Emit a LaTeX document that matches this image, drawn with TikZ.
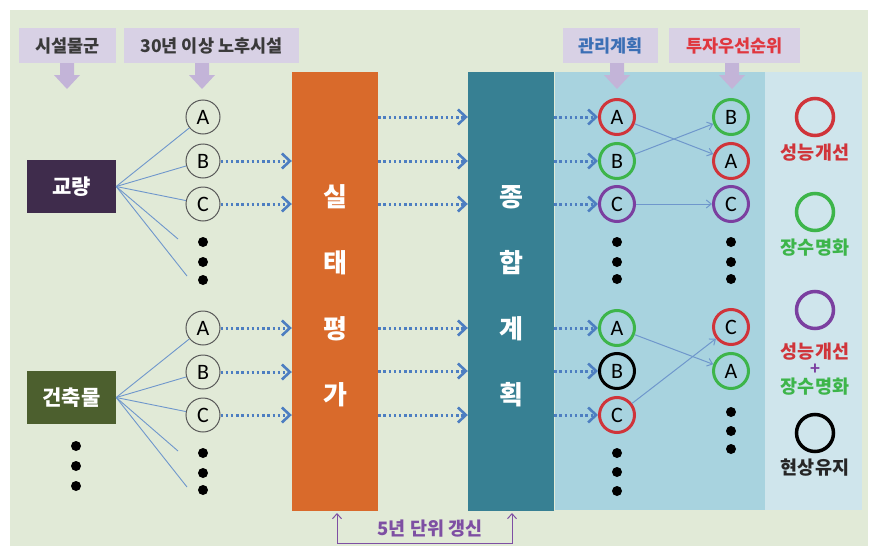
\documentclass[tikz,border=0pt]{standalone}
\usepackage{fontspec}
\setmainfont{Carlito}
\newfontfamily\kr{Noto Sans CJK KR}
\usetikzlibrary{arrows.meta}
\definecolor{panel}{HTML}{E1EAD7}
\definecolor{lav}{HTML}{D8D1E5}
\definecolor{lavarrow}{HTML}{C3B4D8}
\definecolor{orangebox}{HTML}{D96A2B}
\definecolor{tealbox}{HTML}{378093}
\definecolor{lightblue}{HTML}{A8D3DF}
\definecolor{legendbg}{HTML}{CFE5EC}
\definecolor{bridge}{HTML}{3F2C4C}
\definecolor{olive}{HTML}{4C5F2E}
\definecolor{dotblue}{HTML}{4D7EC1}
\definecolor{linkblue}{HTML}{6F97CC}
\definecolor{cred}{HTML}{D0343A}
\definecolor{cgreen}{HTML}{3DB54A}
\definecolor{cpurple}{HTML}{7B3FA0}
\definecolor{hdrtext}{HTML}{3A3A3A}
\definecolor{hdrblue}{HTML}{3B6FB5}
\definecolor{hdrred}{HTML}{E0373F}
\definecolor{brpurple}{HTML}{7E4FA3}
\tikzset{
  hdr/.style={fill=lav, minimum height=35pt, inner sep=0pt, font=\kr\bfseries\fontsize{17.5}{20}\selectfont},
  bigbox/.style={minimum width=86pt, minimum height=439pt, inner sep=0pt},
  bigtext/.style={text=white, align=center, font=\kr\bfseries\fontsize{26}{66}\selectfont},
  catbox/.style={minimum width=89pt, minimum height=53pt, inner sep=0pt, text=white, font=\kr\bfseries\fontsize{21}{24}\selectfont},
  lc/.style={circle, draw=black!65, line width=1pt, minimum size=34pt, inner sep=0pt, font=\fontsize{22}{22}\selectfont},
  mc/.style={circle, line width=3pt, minimum size=35pt, inner sep=0pt, font=\fontsize{22}{22}\selectfont},
  legc/.style={circle, line width=3.5pt, minimum size=37pt, inner sep=0pt},
  legt/.style={font=\kr\bfseries\fontsize{18.5}{20}\selectfont, inner sep=0pt},
  blackdot/.style={circle, fill=black, minimum size=10pt, inner sep=0pt},
  fan/.style={draw=linkblue, line width=0.9pt},
  dotarrow/.style={draw=dotblue, line width=3pt, dash pattern=on 2.4pt off 2.8pt, -{Straight Barb[length=8pt,width=15pt,line width=2.6pt]}},
  link/.style={draw=linkblue, line width=1pt, -{Straight Barb[length=5pt,width=8pt]}},
  bracket/.style={draw=brpurple, line width=1pt, {Straight Barb[length=5pt,width=9pt]}-{Straight Barb[length=5pt,width=9pt]}}
}
\begin{document}
\begin{tikzpicture}[x=1pt,y=-1pt]
\useasboundingbox (0,0) rectangle (876,549);
\fill[white] (0,0) rectangle (876,549);
\fill[panel] (10,10) rectangle (868,546);
% regions
\fill[lightblue] (555,72) rectangle (765,510);
\fill[legendbg] (765,72) rectangle (862,510);
% headers
\node[hdr, minimum width=97pt, text=hdrtext] (h1) at (67.5,45.5) {시설물군};
\node[hdr, minimum width=175pt, text=hdrtext] (h2) at (211.5,45.5) {30년 이상 노후시설};
\node[hdr, minimum width=95pt, text=hdrblue] (h3) at (610.5,45.5) {관리계획};
\node[hdr, minimum width=131pt, text=hdrred] (h4) at (734.5,45.5) {투자우선순위};
\foreach \x in {67,202,617,732}{
  \fill[lavarrow] (\x-7,63) -- (\x+7,63) -- (\x+7,75) -- (\x+13,75) -- (\x,89) -- (\x-13,75) -- (\x-7,75) -- cycle;
}
% big boxes
\node[bigbox, fill=orangebox] (sil) at (335,291.5) {};
\node[bigtext] (silt) at (335,296) {실\\태\\평\\가};
\node[bigbox, fill=tealbox] (jong) at (511,291.5) {};
\node[bigtext] (jongt) at (511,296) {종\\합\\계\\획};
% category boxes
\node[catbox, fill=bridge] (gyo) at (71.5,186.5) {교량};
\node[catbox, fill=olive] (gun) at (71.5,397.5) {건축물};
\node[blackdot] (gd1) at (76,446) {};
\node[blackdot] (gd2) at (76,466) {};
\node[blackdot] (gd3) at (76,486) {};
% left circles
\node[lc] (a1) at (203,117) {A};
\node[lc] (b1) at (203,161) {B};
\node[lc] (c1) at (203,204) {C};
\node[blackdot] (ld1) at (203,242) {};
\node[blackdot] (ld2) at (203,262) {};
\node[blackdot] (ld3) at (203,280) {};
\node[lc] (a2) at (203,328) {A};
\node[lc] (b2) at (203,372) {B};
\node[lc] (c2) at (203,415) {C};
\node[blackdot] (ld4) at (203,453) {};
\node[blackdot] (ld5) at (203,473) {};
\node[blackdot] (ld6) at (203,490) {};
\coordinate (g4) at (178,239);
\coordinate (g5) at (187,276);
\coordinate (k4) at (178,451);
\coordinate (k5) at (187,487);
\foreach \t in {a1,b1,c1,g4,g5}{\draw[fan] (gyo.east) -- (\t);}
\foreach \t in {a2,b2,c2,k4,k5}{\draw[fan] (gun.east) -- (\t);}
% left dotted arrows
\foreach \t in {b1,c1,a2,b2,c2}{\draw[dotarrow] (\t.east) -- (\t.east -| sil.west);}
% middle circles
\node[mc, draw=cred] (ma1) at (617,117) {A};
\node[mc, draw=cgreen] (mb1) at (617,161) {B};
\node[mc, draw=cpurple] (mc1) at (617,204) {C};
\node[blackdot] (md1) at (617,242) {};
\node[blackdot] (md2) at (617,262) {};
\node[blackdot] (md3) at (617,279) {};
\node[mc, draw=cgreen] (ma2) at (617,328) {A};
\node[mc, draw=black] (mb2) at (617,371) {B};
\node[mc, draw=cred] (mc2) at (617,415) {C};
\node[blackdot] (md4) at (617,453) {};
\node[blackdot] (md5) at (617,472) {};
\node[blackdot] (md6) at (617,491) {};
% right circles
\node[mc, draw=cgreen] (rb1) at (731,117) {B};
\node[mc, draw=cred] (ra1) at (731,161) {A};
\node[mc, draw=cpurple] (rc1) at (731,204) {C};
\node[blackdot] (rd1) at (731,242) {};
\node[blackdot] (rd2) at (731,262) {};
\node[blackdot] (rd3) at (731,279) {};
\node[mc, draw=cred] (rc2) at (731,327) {C};
\node[mc, draw=cgreen] (ra2) at (731,371) {A};
\node[blackdot] (rd4) at (731,412) {};
\node[blackdot] (rd5) at (731,431) {};
\node[blackdot] (rd6) at (731,449) {};
% dotted arrows between boxes and to middle circles
\foreach \t in {ma1,mb1,mc1,ma2,mb2,mc2}{
  \draw[dotarrow] (sil.east |- \t) -- (jong.west |- \t);
  \draw[dotarrow] (jong.east |- \t) -- (\t.west);
}
% reordering links
\draw[link] (ma1) -- (ra1);
\draw[link] (mb1) -- (rb1);
\draw[link] (mc1) -- (rc1);
\draw[link] (ma2) -- (ra2);
\draw[link] (mc2) -- (rc2);
% legend
\node[legc, draw=cred] (l1) at (815,117) {};
\node[legt, text=cred] (l1t) at (815,153) {성능개선};
\node[legc, draw=cgreen] (l2) at (815,212) {};
\node[legt, text=cgreen] (l2t) at (815,248) {장수명화};
\node[legc, draw=cpurple] (l3) at (815,310) {};
\node[legt, text=cred] (l3t) at (815,352) {성능개선};
\node[legt, text=cpurple, font=\bfseries\fontsize{19}{19}\selectfont] (l3p) at (815,369) {+};
\node[legt, text=cgreen] (l3u) at (815,387) {장수명화};
\node[legc, draw=black] (l4) at (815,433) {};
\node[legt, text=black!85] (l4t) at (815,468) {현상유지};
% bottom bracket
\coordinate (bt1) at (337,513);
\coordinate (bt2) at (512,513);
\coordinate (bb) at (337,543);
\draw[bracket] (bt1) -- (bb) -| (bt2);
\node[legt, text=brpurple] (cyc) at (430,529) {5년 단위 갱신};
\end{tikzpicture}
\end{document}
